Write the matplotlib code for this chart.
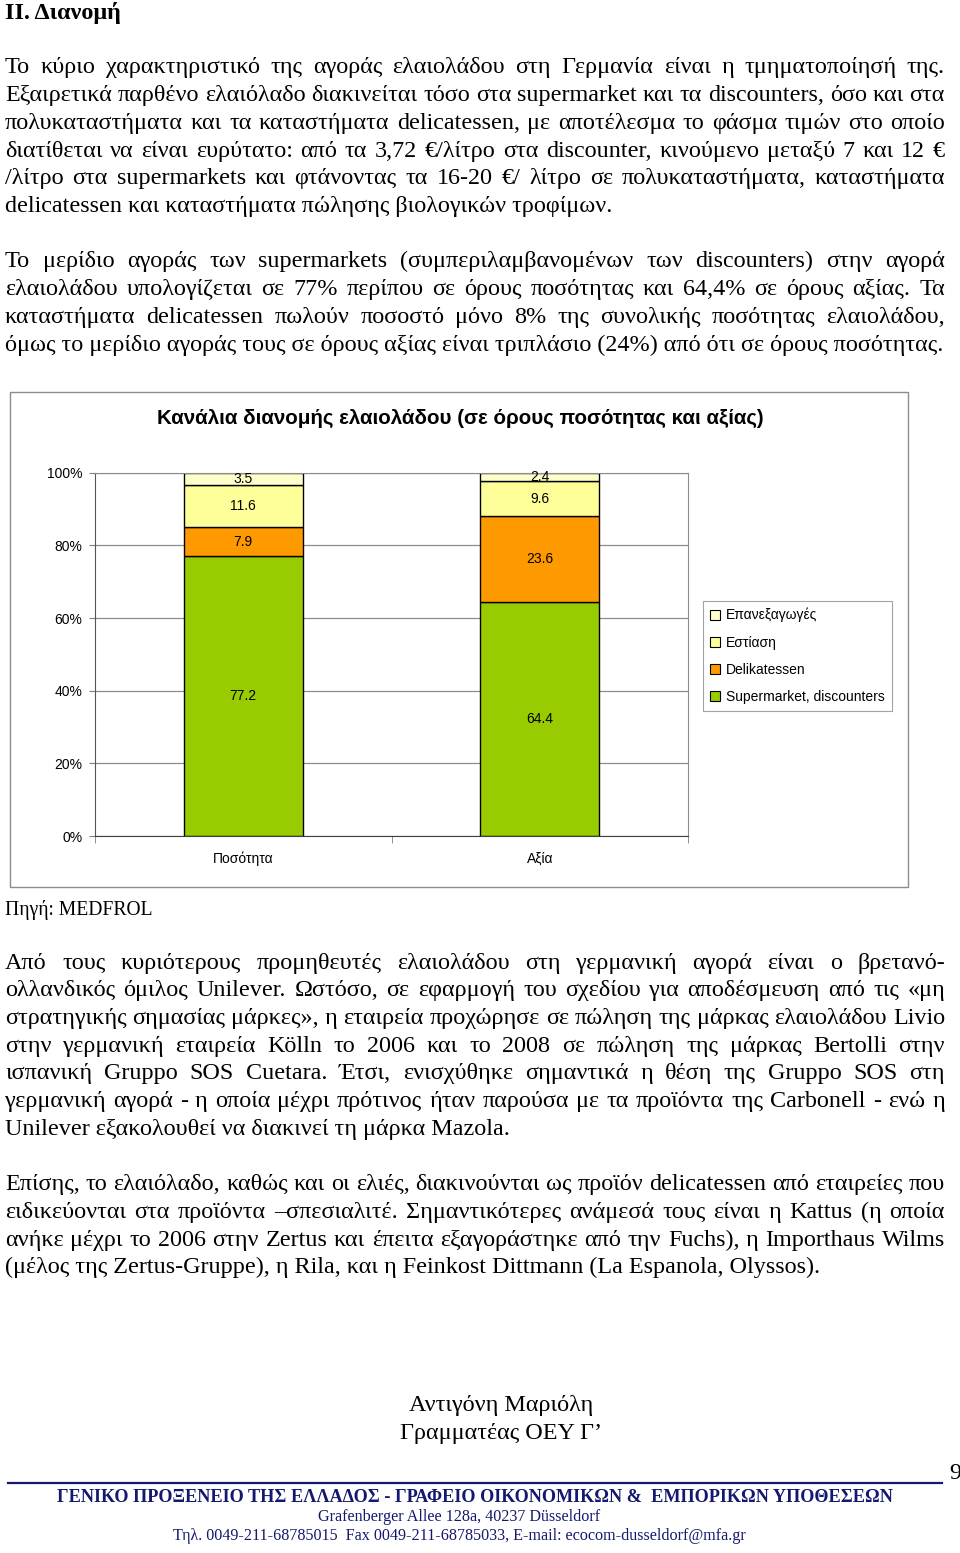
import matplotlib
matplotlib.use('Agg')
import matplotlib.pyplot as plt
from matplotlib.patches import Rectangle, Patch
from matplotlib.lines import Line2D

W, H = 960, 1553

# chart data (numbers printed on the bars)
categories = ['Ποσότητα', 'Αξία']
channels = ['Supermarket, discounters', 'Delikatessen', 'Εστίαση', 'Επανεξαγωγές']
supermarket = [77.2, 64.4]
delikatessen = [7.9, 23.6]
estiasi = [11.6, 9.6]
epanexagoges = [3.5, 2.4]
colors = ['#99CC00', '#FF9900', '#FFFF99', '#FFFFCC']
chart_title = 'Κανάλια διανομής ελαιολάδου (σε όρους ποσότητας και αξίας)'

heading = 'II. Διανομή'
par1 = [
    'Το κύριο χαρακτηριστικό της αγοράς ελαιολάδου στη Γερμανία είναι η τμηματοποίησή της.',
    'Εξαιρετικά παρθένο ελαιόλαδο διακινείται τόσο στα supermarket και τα discounters, όσο και στα',
    'πολυκαταστήματα και τα καταστήματα delicatessen, με αποτέλεσμα το φάσμα τιμών στο οποίο',
    'διατίθεται να είναι ευρύτατο: από τα 3,72 €/λίτρο στα discounter,  κινούμενο μεταξύ 7 και 12 €',
    '/λίτρο στα supermarkets και φτάνοντας τα 16-20 €/ λίτρο σε πολυκαταστήματα, καταστήματα',
    'delicatessen και καταστήματα πώλησης βιολογικών τροφίμων.',
]
par2 = [
    'Το μερίδιο αγοράς των supermarkets (συμπεριλαμβανομένων των discounters) στην αγορά',
    'ελαιολάδου υπολογίζεται σε 77% περίπου σε όρους ποσότητας και 64,4% σε όρους αξίας. Τα',
    'καταστήματα delicatessen πωλούν ποσοστό μόνο 8% της συνολικής ποσότητας ελαιολάδου,',
    'όμως το μερίδιο αγοράς τους σε όρους αξίας είναι τριπλάσιο (24%) από ότι σε όρους ποσότητας.',
]
par3 = [
    'Από τους κυριότερους προμηθευτές ελαιολάδου στη γερμανική αγορά είναι ο βρετανό-',
    'ολλανδικός όμιλος Unilever. Ωστόσο, σε εφαρμογή του σχεδίου για αποδέσμευση από τις «μη',
    'στρατηγικής σημασίας μάρκες», η εταιρεία προχώρησε σε πώληση της μάρκας ελαιολάδου Livio',
    'στην γερμανική εταιρεία Kölln το 2006 και το 2008 σε πώληση της μάρκας  Bertolli στην',
    'ισπανική Gruppo SOS Cuetara. Έτσι, ενισχύθηκε σημαντικά η θέση της Gruppo SOS στη',
    'γερμανική αγορά - η οποία μέχρι πρότινος ήταν παρούσα με τα προϊόντα της Carbonell - ενώ η',
    'Unilever εξακολουθεί να διακινεί τη μάρκα Mazola.',
]
par4 = [
    'Επίσης, το ελαιόλαδο, καθώς και οι ελιές, διακινούνται ως προϊόν delicatessen από εταιρείες που',
    'ειδικεύονται στα προϊόντα –σπεσιαλιτέ. Σημαντικότερες ανάμεσά τους είναι η Kattus (η οποία',
    'ανήκε μέχρι το 2006 στην Zertus και έπειτα εξαγοράστηκε από την Fuchs), η Importhaus Wilms',
    '(μέλος της Zertus-Gruppe), η Rila, και η Feinkost Dittmann (La Espanola, Olyssos).',
]
source = 'Πηγή: MEDFROL'
signature = ['Αντιγόνη Μαριόλη', 'Γραμματέας ΟΕΥ Γ’']
page_no = '9'
footer = [
    'ΓΕΝΙΚΟ ΠΡΟΞΕΝΕΙΟ ΤΗΣ ΕΛΛΑΔΟΣ - ΓΡΑΦΕΙΟ ΟΙΚΟΝΟΜΙΚΩΝ &  ΕΜΠΟΡΙΚΩΝ ΥΠΟΘΕΣΕΩΝ',
    'Grafenberger Allee 128a, 40237 Düsseldorf',
    'Τηλ. 0049-211-68785015  Fax 0049-211-68785033, E-mail: ecocom-dusseldorf@mfa.gr',
]

SERIF = ['Liberation Serif', 'DejaVu Serif']
SANS = ['Liberation Sans', 'DejaVu Sans']
NAVY = '#14186e'

fig = plt.figure(figsize=(W / 100, H / 100), dpi=100)
fig.patch.set_facecolor('white')
renderer = fig.canvas.get_renderer()


def fx(x):
    return x / W


def fy(y):
    return 1 - y / H


def text_width(s, **kw):
    t = fig.text(0, 0, s, **kw)
    w = t.get_window_extent(renderer).width
    t.remove()
    return w


def fit_size(s, target, **kw):
    return 10 * target / text_width(s, fontsize=10, **kw)


# body font size taken from the width of two un-justified lines
body = 10 * (602 + 935) / (text_width(par1[-1], fontsize=10, family=SERIF)
                           + text_width(par2[-1], fontsize=10, family=SERIF))
em = body * 100 / 72
X0, X1 = 5, 945


def put_line(line, yc, justify):
    yb = fy(yc + 0.3 * em)
    words = line.split()
    if not justify or len(words) < 2:
        fig.text(fx(X0), yb, ' '.join(words), family=SERIF, fontsize=body, va='baseline')
        return
    widths = [text_width(w, family=SERIF, fontsize=body) for w in words]
    gap = (X1 - X0 - sum(widths)) / (len(words) - 1)
    x = X0
    for w, wd in zip(words, widths):
        fig.text(fx(x), yb, w, family=SERIF, fontsize=body, va='baseline')
        x += wd + gap


def put_par(lines, ys):
    for i, (ln, y) in enumerate(zip(lines, ys)):
        put_line(ln, y, i < len(lines) - 1)


fig.text(fx(5), fy(12 + 0.3 * em), heading, family=SERIF, fontsize=body,
         fontweight='bold', va='baseline')
put_par(par1, [66, 94, 122, 150, 177, 205])
put_par(par2, [260, 288, 316, 344])
src_size = fit_size(source, 148, family=SERIF)
fig.text(fx(5), fy(908 + 0.3 * em), source, family=SERIF, fontsize=src_size, va='baseline')
put_par(par3, [962, 989, 1017, 1045, 1072, 1100, 1128])
put_par(par4, [1183, 1211, 1239, 1266])

for s, y in zip(signature, [1404, 1432]):
    fig.text(fx(501), fy(y + 0.3 * em), s, family=SERIF, fontsize=body,
             ha='center', va='baseline')

# footer
fig.add_artist(Line2D([fx(8), fx(942)], [fy(1483), fy(1483)], color=NAVY, lw=1.6,
                      transform=fig.transFigure))
fig.text(fx(955), fy(1472 + 0.3 * em), page_no, family=SERIF, fontsize=body,
         ha='center', va='baseline')
f1 = fit_size(footer[0], 833, family=SERIF, fontweight='bold')
f2 = fit_size(footer[1], 282, family=SERIF)
f3 = fit_size(footer[2], 572, family=SERIF)
fig.text(fx(475), fy(1497), footer[0], family=SERIF, fontsize=f1, fontweight='bold',
         color=NAVY, ha='center', va='center')
fig.text(fx(459), fy(1517), footer[1], family=SERIF, fontsize=f2,
         color=NAVY, ha='center', va='center')
fig.text(fx(459), fy(1536), footer[2], family=SERIF, fontsize=f3,
         color=NAVY, ha='center', va='center')

# chart frame
fig.add_artist(Rectangle((fx(10), fy(887)), 898 / W, (887 - 392) / H, fill=False,
                         edgecolor='#8c8c8c', lw=1, transform=fig.transFigure))
ts = fit_size(chart_title, 606, family=SANS, fontweight='bold')
fig.text(fx(460), fy(418), chart_title, family=SANS, fontsize=ts, fontweight='bold',
         ha='center', va='center')

ax = fig.add_axes([fx(95), fy(836), (688 - 95) / W, (836 - 472.7) / H])
series = [supermarket, delikatessen, estiasi, epanexagoges]
totals = [sum(v) for v in zip(*series)]
x = list(range(len(categories)))
bottom = [0.0] * len(categories)
for vals, col, name in zip(series, colors, channels):
    heights = [v / t * 100 for v, t in zip(vals, totals)]
    ax.bar(x, heights, 0.4, bottom=bottom, color=col, edgecolor='black', lw=1, label=name)
    for xi, b, h, v in zip(x, bottom, heights, vals):
        ax.text(xi, b + h / 2, f'{v:.1f}', ha='center', va='center', family=SANS, fontsize=10)
    bottom = [b + h for b, h in zip(bottom, heights)]

ax.set_xlim(-0.5, 1.5)
ax.set_ylim(0, 100)
ax.set_yticks(range(0, 101, 20))
ax.yaxis.set_major_formatter('{x:.0f}%')
ax.set_xticks(x, categories)
ax.set_xticks([-0.5, 0.5, 1.5], minor=True)
ax.tick_params(axis='x', which='major', length=0, pad=11)
ax.tick_params(axis='x', which='minor', length=5, color='#808080')
ax.tick_params(axis='y', length=4, color='#808080', pad=5)
for lab in ax.get_xticklabels() + ax.get_yticklabels():
    lab.set_family(SANS)
    lab.set_fontsize(10)
ax.grid(axis='y', color='#8c8c8c', lw=0.9)
ax.set_axisbelow(True)
for side in ['top', 'right']:
    ax.spines[side].set_color('#8c8c8c')
ax.spines['left'].set_color('#555555')
ax.spines['bottom'].set_color('#404040')

handles = [Patch(facecolor=c, edgecolor='black', lw=0.8, label=n) for c, n in zip(colors, channels)][::-1]
leg = fig.legend(handles=handles, loc='upper left', bbox_to_anchor=(fx(703), fy(601)),
                 frameon=True, fancybox=False, edgecolor='#8c8c8c', borderaxespad=0,
                 prop={'family': SANS, 'size': 10}, labelspacing=0.95,
                 handlelength=0.75, handleheight=0.75, handletextpad=0.4,
                 borderpad=0.5)
leg.get_frame().set_linewidth(0.8)

fig.savefig('out.png', dpi=100)
